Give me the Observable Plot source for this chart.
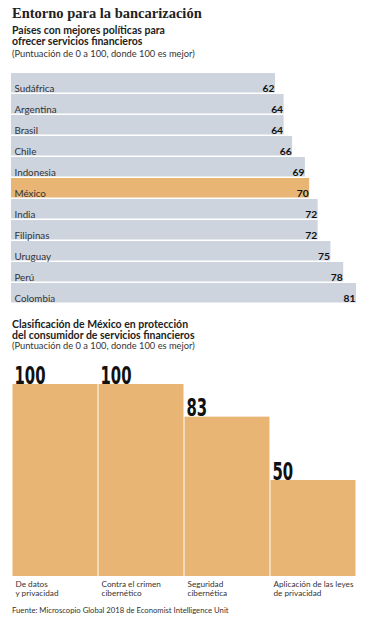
<!DOCTYPE html>
<html><head><meta charset="utf-8">
<script src="https://cdn.jsdelivr.net/npm/d3@7"></script>
<script src="https://cdn.jsdelivr.net/npm/@observablehq/plot@0.6"></script>
<style>
html,body{margin:0;padding:0;background:#fff;}
#wrap{position:relative;width:368px;height:620px;overflow:hidden;font-family:Lato,"Open Sans",sans-serif;color:#222;}
.abs{position:absolute;left:12px;white-space:nowrap;}
.t{font-family:"Liberation Serif","DejaVu Serif",serif;font-weight:bold;font-size:14.5px;top:5px;color:#222;}
.s{font-weight:bold;font-size:10.5px;line-height:11px;color:#222;}
.n{font-size:9.3px;color:#333;}
.src{font-size:7.7px;color:#333;}
svg{position:absolute;left:0;}
</style>
</head><body>
<div id="wrap">
  <div class="abs t">Entorno para la bancarización</div>
  <div class="abs s" style="top:25px">Países con mejores políticas para<br>ofrecer servicios financieros</div>
  <div class="abs n" style="top:48px">(Puntuación de 0 a 100, donde 100 es mejor)</div>
  <div id="c1"></div>
  <div class="abs s" style="top:319px">Clasificación de México en protección<br>del consumidor de servicios financieros</div>
  <div class="abs n" style="top:340px">(Puntuación de 0 a 100, donde 100 es mejor)</div>
  <div id="c2"></div>
  <div class="abs src" style="top:605px">Fuente: Microscopio Global 2018 de Economist Intelligence Unit</div>
</div>
<script>
const countries = ["Sudáfrica","Argentina","Brasil","Chile","Indonesia","México","India","Filipinas","Uruguay","Perú","Colombia"];
const scores = [62,64,64,66,69,70,72,72,75,78,81];
const highlight = "México";

const categories = ["De datos\ny privacidad","Contra el crimen\ncibernético","Seguridad\ncibernética","Aplicación de las leyes\nde privacidad"];
const mxScores = [100,100,83,50];

const gray = "#cdd4de", orange = "#e8b574";

const d1 = countries.map((c,i)=>({c, v:scores[i]}));
const p1 = Plot.plot({
  width:368, height:255,
  marginLeft:11, marginRight:12, marginTop:8, marginBottom:7,
  x:{domain:[0,81], axis:null},
  y:{domain:countries, axis:null, padding:0},
  style:{fontFamily:"Lato, 'Open Sans', sans-serif", background:"transparent"},
  marks:[
    Plot.barX(d1,{x:"v", y:"c", fill:d=>d.c===highlight?orange:gray, insetBottom:1.5}),
    Plot.text(d1,{x:0, y:"c", text:"c", textAnchor:"start", dx:3, dy:5, fontSize:9.8, fill:"#333"}),
    Plot.text(d1,{x:"v", y:"c", text:d=>String(d.v), textAnchor:"end", dx:-1, dy:5, fontSize:10.3, fontWeight:"bold", fill:"#111"})
  ]
});
p1.style.top = "60px";
document.getElementById("c1").appendChild(p1);

const d2 = categories.map((c,i)=>({c, v:mxScores[i]}));
const p2 = Plot.plot({
  width:368, height:250,
  marginLeft:11, marginRight:12, marginTop:29, marginBottom:29,
  x:{domain:categories, axis:null, padding:0},
  y:{domain:[0,100], axis:null},
  style:{fontFamily:"Lato, 'Open Sans', sans-serif", background:"transparent"},
  marks:[
    Plot.barY(d2,{x:"c", y:"v", fill:orange, insetLeft:0.5, insetRight:0.5}),
    Plot.text(d2,{x:"c", y:"v", text:d=>String(d.v), textAnchor:"start", lineAnchor:"bottom", dx:-41, dy:-1,
      fontSize:24, fontWeight:"bold", fontFamily:"'DejaVu Sans', sans-serif", fill:"#111"}),
    Plot.text(d2,{x:"c", y:0, text:"c", textAnchor:"start", lineAnchor:"top", dx:-40, dy:3, fontSize:8.2, lineHeight:1.2, fill:"#333"})
  ]
});
// condense the big value labels horizontally (narrow display face)
d3.select(p2).selectAll('g[font-size="24"] text').each(function(){
  const t = this.getAttribute("transform");
  if (t) {
    this.setAttribute("transform", t + " scale(0.62,1)");
  } else {
    const x = +(this.getAttribute("x")||0), y = +(this.getAttribute("y")||0);
    this.setAttribute("transform", `translate(${x},${y}) scale(0.62,1) translate(${-x},${-y})`);
  }
});
p2.style.top = "355px";
document.getElementById("c2").appendChild(p2);
</script>
</body></html>
